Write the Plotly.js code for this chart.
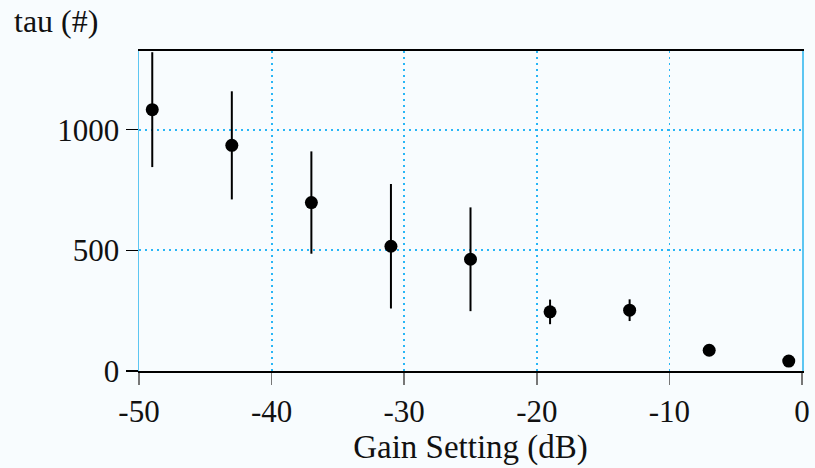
<!DOCTYPE html>
<html>
<head>
<meta charset="utf-8">
<script src="https://cdn.plot.ly/plotly-3.0.1.min.js"></script>
<style>html,body{margin:0;padding:0;background:#f8fcfe;}#chart{width:815px;height:468px;}</style>
</head>
<body>
<div id="chart"></div>
<script>
const gainSetting = [-49, -43, -37, -31, -25, -19, -13, -7, -1];
const tauValues = [1083, 935, 698, 517, 463, 245, 252, 86, 41];
const tauErrors = [238, 224, 212, 258, 215, 51, 45, 0, 0];
const xTickVals = [-50, -40, -30, -20, -10, 0];
const yTickVals = [0, 500, 1000];

const FONT = 'Liberation Serif, Times New Roman, serif';
const trace = {
  x: gainSetting,
  y: tauValues,
  type: 'scatter',
  mode: 'markers',
  marker: {color: '#000000', size: 13, symbol: 'circle'},
  error_y: {type: 'data', array: tauErrors, visible: true, color: '#000000', thickness: 2, width: 0},
  cliponaxis: true,
  showlegend: false
};
const layout = {
  width: 815, height: 468,
  margin: {l: 139, r: 13, t: 51, b: 97},
  paper_bgcolor: '#f8fcfe',
  plot_bgcolor: '#f8fcfe',
  font: {family: FONT, size: 31, color: '#111111'},
  xaxis: {
    range: [-50, 0],
    tickmode: 'array', tickvals: xTickVals, ticktext: xTickVals.map(String),
    ticks: 'outside', ticklen: 12, tickwidth: 1.5, tickcolor: '#777777',
    showline: true, mirror: true, linecolor: '#000000', linewidth: 2,
    showgrid: true, gridcolor: '#29b6f6', griddash: '2px,4px', gridwidth: 1.8,
    zeroline: false,
    tickfont: {family: FONT, size: 31, color: '#111111'},
    title: {text: 'Gain Setting (dB)', font: {family: FONT, size: 33, color: '#111111'}, standoff: 4}
  },
  yaxis: {
    range: [0, 1326],
    tickmode: 'array', tickvals: yTickVals, ticktext: yTickVals.map(String),
    ticks: 'outside', ticklen: 12, tickwidth: 1.5, tickcolor: '#000000',
    showline: true, mirror: true, linecolor: '#5cc6f2', linewidth: 1.5,
    showgrid: true, gridcolor: '#29b6f6', griddash: '2px,4px', gridwidth: 1.8,
    zeroline: false,
    tickfont: {family: FONT, size: 31, color: '#111111'}
  },
  annotations: [{
    text: 'tau (#)', xref: 'paper', yref: 'paper', x: -0.192, y: 1.094,
    xanchor: 'left', yanchor: 'middle', showarrow: false,
    font: {family: FONT, size: 32, color: '#111111'}
  }]
};
Plotly.newPlot('chart', [trace], layout, {displayModeBar: false, staticPlot: true});
</script>
</body>
</html>
